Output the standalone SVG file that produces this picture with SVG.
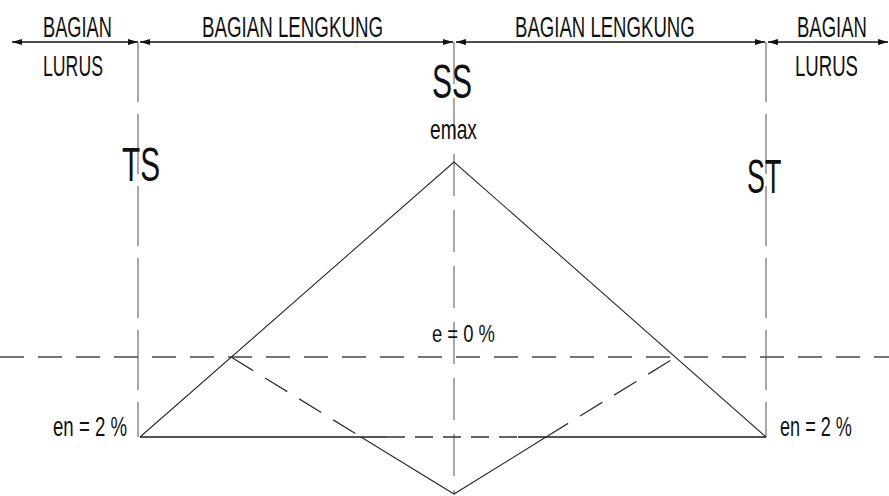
<svg xmlns="http://www.w3.org/2000/svg" width="889" height="496" viewBox="0 0 889 496">
<defs>
<marker id="arr" viewBox="0 0 10 6" refX="10" refY="3" markerWidth="10" markerHeight="6" markerUnits="userSpaceOnUse" orient="auto-start-reverse">
<path d="M0,0 L10,3 L0,6 Z" fill="#111"/>
</marker>
</defs>
<style>
text{font-family:"Liberation Sans",Arial,sans-serif;fill:#111;}
.lbl{font-size:30px;}
.big{font-size:48px;}
.small{font-size:27px;}
.dim{stroke:#111;stroke-width:1.3;fill:none;marker-start:url(#arr);marker-end:url(#arr);}
.vert{stroke:#7a7a7a;stroke-width:1.3;stroke-dasharray:60 12;fill:none;}
.tri{stroke:#2a2a2a;stroke-width:1.1;fill:none;}
.base{stroke:#1a1a1a;stroke-width:1.6;fill:none;}
.dash{stroke:#4a4a4a;stroke-width:1.5;fill:none;stroke-dasharray:24 14;}
.ddiag{stroke:#333;stroke-width:1.3;fill:none;stroke-dasharray:26 14;}
.dbase{stroke:#333;stroke-width:1.6;fill:none;stroke-dasharray:18 10;}
</style>
<g id="connectors">
<line class="dim" x1="12" y1="42" x2="138" y2="42"/>
<line class="dim" x1="140" y1="42" x2="453" y2="42"/>
<line class="dim" x1="456" y1="42" x2="765" y2="42"/>
<line class="dim" x1="768" y1="42" x2="888" y2="42"/>
<line class="vert" x1="138" y1="42" x2="138" y2="437"/>
<line class="vert" x1="454" y1="42" x2="454" y2="494" style="stroke-dasharray:42 14"/>
<line class="vert" x1="766" y1="42" x2="766" y2="437"/>
<line class="dash" x1="0" y1="357" x2="889" y2="357"/>
<polyline class="tri" points="140,437 454,162 766,437"/>
<line class="base" x1="140" y1="437" x2="387" y2="437"/>
<line class="dbase" x1="387" y1="437" x2="518" y2="437"/>
<line class="base" x1="518" y1="437" x2="766" y2="437"/>
<line class="ddiag" x1="231" y1="357" x2="361" y2="437"/>
<polyline class="tri" points="361,437 454,494 546,437"/>
<line class="ddiag" x1="546" y1="437" x2="676" y2="357"/>
</g>
<g id="label-lurus-left">
<text class="lbl" transform="translate(43,37) scale(0.608,1)">BAGIAN</text>
<text class="lbl" transform="translate(43,76) scale(0.59,1)">LURUS</text>
</g>
<g id="label-lengkung-left">
<text class="lbl" transform="translate(202,37) scale(0.624,1)">BAGIAN LENGKUNG</text>
</g>
<g id="label-lengkung-right">
<text class="lbl" transform="translate(515,37) scale(0.62,1)">BAGIAN LENGKUNG</text>
</g>
<g id="label-lurus-right">
<text class="lbl" transform="translate(797,37) scale(0.617,1)">BAGIAN</text>
<text class="lbl" transform="translate(795,76) scale(0.62,1)">LURUS</text>
</g>
<g id="node-ss">
<text class="big" transform="translate(432,98) scale(0.625,1)">SS</text>
<text class="small" transform="translate(430,139) scale(0.712,1)">emax</text>
</g>
<g id="node-ts">
<text class="big" transform="translate(122,181) scale(0.62,1)">TS</text>
</g>
<g id="node-st">
<text class="big" transform="translate(747,193) scale(0.56,1)">ST</text>
</g>
<g id="label-e0">
<text class="small" transform="translate(432,342) scale(0.768,1)" style="font-size:24px">e = 0 %</text>
</g>
<g id="label-en-left">
<text class="small" transform="translate(53,436) scale(0.69,1)">en = 2 %</text>
</g>
<g id="label-en-right">
<text class="small" transform="translate(780,436) scale(0.67,1)">en = 2 %</text>
</g>
</svg>
